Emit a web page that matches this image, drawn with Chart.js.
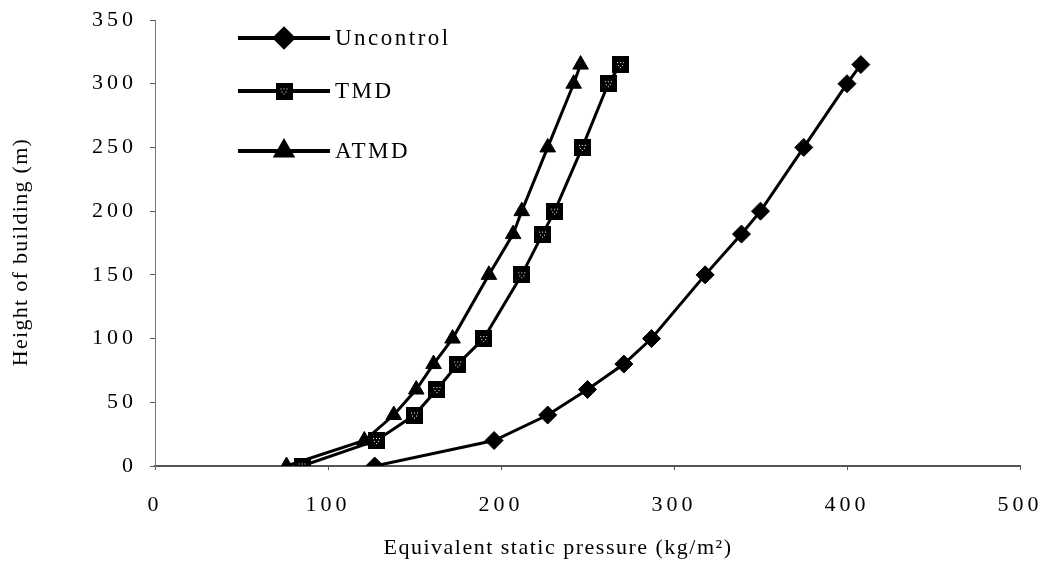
<!DOCTYPE html>
<html>
<head>
<meta charset="utf-8">
<script src="https://cdn.jsdelivr.net/npm/chart.js@4"></script>
<style>
  html, body { margin: 0; padding: 0; background: #fff; }
  #wrap { width: 1048px; height: 561px; }
</style>
</head>
<body>
<div id="wrap"><canvas id="chart"></canvas></div>
<script>
// heights of building (m) where pressure was read
const heights = [0, 20, 40, 60, 80, 100, 150, 182, 200, 250, 300, 315];
// equivalent static pressure (kg/m2) for each case
const uncontrol = [127, 196, 227, 250, 271, 287, 318, 339, 350, 375, 400, 408];
const tmd = [85, 128, 150, 163, 175, 190, 212, 224, 231, 247, 262, 269];
const atmd = [76, 121, 138, 151, 161, 172, 193, 207, 212, 227, 242, 246];
const seriesNames = ['Uncontrol', 'TMD', 'ATMD'];
const xTicks = [0, 100, 200, 300, 400, 500];
const yTicks = [0, 50, 100, 150, 200, 250, 300, 350];
const xTitle = 'Equivalent static pressure (kg/m\u00b2)';
const yTitle = 'Height of building (m)';

const serif = "'Liberation Serif', 'DejaVu Serif', serif";

function toPoints(xs) {
    return xs.map((x, i) => ({ x: x, y: heights[i] }));
}

// black square with a few white specks, like the scanned TMD marker
function speckSquare(size) {
    const c = document.createElement('canvas');
    c.width = size;
    c.height = size;
    const g = c.getContext('2d');
    g.fillStyle = '#000';
    g.fillRect(0, 0, size, size);
    g.fillStyle = '#fff';
    const m = Math.floor(size / 2);
    [[-3, -2], [0, -2], [3, -2], [-2, 1], [2, 1], [0, 3]].forEach(p => g.fillRect(m + p[0], m + p[1], 1, 1));
    return c;
}
const tmdMarker = speckSquare(17);

// wide letter spacing for all scale text, titles drawn by hand
const textStyle = {
    id: 'textStyle',
    beforeDraw(chart) {
        chart.ctx.letterSpacing = '4px';
    },
    afterDraw(chart) {
        const ctx = chart.ctx;
        ctx.save();
        ctx.fillStyle = '#000';
        ctx.font = '22px ' + serif;
        ctx.letterSpacing = '1.5px';
        ctx.textAlign = 'center';
        ctx.textBaseline = 'middle';
        ctx.fillText(xTitle, 558, 548);
        ctx.translate(21, 252);
        ctx.rotate(-Math.PI / 2);
        ctx.letterSpacing = '1.3px';
        ctx.fillText(yTitle, 0, 0);
        ctx.restore();
    }
};

// legend drawn inside the plot area: line with the marker in the middle
const lineLegend = {
    id: 'lineLegend',
    afterDraw(chart) {
        const ctx = chart.ctx;
        const rows = [38, 91, 151];
        chart.data.datasets.forEach((ds, i) => {
            const y = rows[i];
            ctx.save();
            ctx.strokeStyle = '#000';
            ctx.lineWidth = 4;
            ctx.beginPath();
            ctx.moveTo(238, y);
            ctx.lineTo(330, y);
            ctx.stroke();
            Chart.helpers.drawPoint(ctx, {
                pointStyle: ds.pointStyle,
                rotation: 0,
                radius: ds.pointRadius,
                borderWidth: 1
            }, 284, y);
            ctx.fillStyle = '#000';
            ctx.font = '23px ' + serif;
            ctx.textBaseline = 'middle';
            ctx.letterSpacing = '2.5px';
            ctx.fillText(ds.label, 335, y + 1);
            ctx.restore();
        });
    }
};

const common = {
    showLine: true,
    borderColor: '#000',
    backgroundColor: '#000',
    pointBorderColor: '#000',
    pointBackgroundColor: '#000',
    borderWidth: 3,
    pointBorderWidth: 1
};

new Chart(document.getElementById('chart'), {
    type: 'scatter',
    data: {
        datasets: [
            Object.assign({}, common, { label: seriesNames[0], data: toPoints(uncontrol), pointStyle: 'rectRot', pointRadius: 9 }),
            Object.assign({}, common, { label: seriesNames[1], data: toPoints(tmd), pointStyle: tmdMarker, pointRadius: 8 }),
            Object.assign({}, common, { label: seriesNames[2], data: toPoints(atmd), pointStyle: 'triangle', pointRadius: 9 })
        ]
    },
    options: {
        responsive: true,
        maintainAspectRatio: false,
        animation: false,
        layout: { padding: { left: 0, right: 28, top: 20, bottom: 0 } },
        plugins: {
            legend: { display: false },
            tooltip: { enabled: false }
        },
        scales: {
            x: {
                type: 'linear',
                min: 0,
                max: 500,
                afterBuildTicks: (axis) => { axis.ticks = xTicks.map(v => ({ value: v })); },
                afterFit: (axis) => {
                    axis.height = 95;
                    axis.paddingLeft = 0;
                    axis.paddingRight = 0;
                },
                grid: { drawOnChartArea: false, drawTicks: true, tickLength: 4, color: '#555' },
                border: { display: true, color: '#555', width: 2 },
                ticks: { color: '#000', font: { family: serif, size: 22 }, padding: 22, maxRotation: 0 }
            },
            y: {
                type: 'linear',
                min: 0,
                max: 350,
                afterBuildTicks: (axis) => { axis.ticks = yTicks.map(v => ({ value: v })); },
                afterFit: (axis) => {
                    axis.width = 155;
                    axis.paddingTop = 0;
                    axis.paddingBottom = 0;
                },
                grid: { drawOnChartArea: false, drawTicks: true, tickLength: 5, color: '#555' },
                border: { display: true, color: '#777', width: 1, dash: [6, 2] },
                ticks: { color: '#000', font: { family: serif, size: 22 }, padding: 13 }
            }
        }
    },
    plugins: [textStyle, lineLegend]
});
</script>
</body>
</html>
